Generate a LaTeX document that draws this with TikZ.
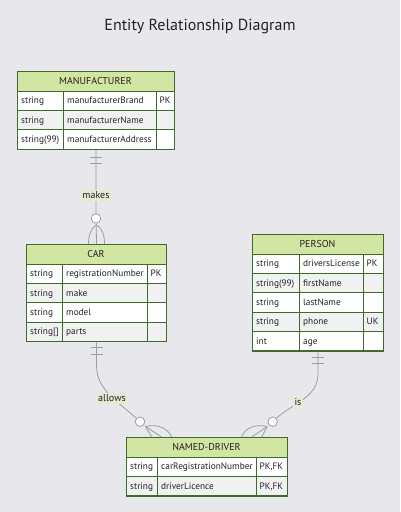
\documentclass[tikz,border=0pt]{standalone}
\usepackage{fontspec}
\setmainfont{PT Sans}
\definecolor{bgc}{HTML}{E8E8EC}
\definecolor{erhead}{HTML}{D3E5A2}
\definecolor{erborder}{HTML}{3F6A2C}
\definecolor{rowalt}{HTML}{F1F1F1}
\definecolor{relline}{HTML}{9E9E9E}
\definecolor{lblbg}{HTML}{E4EBD0}
\definecolor{txtc}{HTML}{222222}
\tikzset{
  ent/.style={draw=erborder, line width=1.1pt, inner sep=0pt, fill=none},
  cell/.style={draw=erborder, line width=0.7pt},
  hdr/.style={font=\fontsize{10}{12}\selectfont, text=txtc, inner sep=0pt, text height=7pt, text depth=2pt},
  celltxt/.style={font=\fontsize{9.3}{11}\selectfont, text=txtc, anchor=west, inner sep=0pt, text height=6.8pt, text depth=2pt},
  rel/.style={draw=relline, line width=0.8pt},
  circ/.style={circle, draw=relline, line width=0.8pt, fill=white, inner sep=0pt, minimum size=9.5pt},
  lbl/.style={fill=lblbg, font=\fontsize{10}{12}\selectfont, text=txtc, inner sep=1.5pt},
}
% #1 id, #2 x0, #3 c1, #4 c2, #5 x1, #6 ytop, #7 title, #8 rows
\newcommand\ertable[8]{%
  \fill[erhead] (#2,#6) rectangle (#5,#6+20);
  \node[hdr] (#1-title) at ({(#2+#5)/2},#6+10.8) {#7};
  \foreach \ty/\nm/\ky [count=\i] in {#8} {
    \pgfmathsetmacro\ya{#6+20+(\i-1)*19.3}
    \pgfmathsetmacro\yb{\ya+19.3}
    \ifodd\i\relax
      \fill[white] (#2,\ya) rectangle (#5,\yb);
    \else
      \fill[rowalt] (#2,\ya) rectangle (#5,\yb);
    \fi
    \draw[cell] (#2,\ya) rectangle (#3,\yb);
    \draw[cell] (#3,\ya) rectangle (#4,\yb);
    \draw[cell] (#4,\ya) rectangle (#5,\yb);
    \node[celltxt] (#1-t\i) at (#2+4,\ya+10.4) {\ty};
    \node[celltxt] (#1-n\i) at (#3+4,\ya+10.4) {\nm};
    \node[celltxt] (#1-k\i) at (#4+3.5,\ya+10.4) {\ky};
    \xdef\erbottom{\yb}
  }
  \draw[cell] (#2,#6+20) -- (#5,#6+20);
  \node[ent, anchor=north west, minimum width={#5pt-#2pt}, minimum height={\erbottom pt-#6pt}] (#1) at (#2,#6) {};
}
\begin{document}
\begin{tikzpicture}[x=1pt,y=-1pt]
\fill[bgc] (0,0) rectangle (400,512);
\useasboundingbox (0,0) rectangle (400,512);

\node[font=\fontsize{16}{19}\selectfont, text=txtc] (title) at (200,27) {Entity Relationship Diagram};

\ertable{manu}{17}{63}{156}{174}{71}{MANUFACTURER}{string/manufacturerBrand/PK, string/manufacturerName/, string(99)/manufacturerAddress/}
\ertable{car}{26}{62}{147}{166}{244}{CAR}{string/registrationNumber/PK, string/make/, string/model/, string[]/parts/}
\ertable{person}{252}{299}{363}{383}{234}{PERSON}{string/driversLicense/PK, string(99)/firstName/, string/lastName/, string/phone/UK, int/age/}
\ertable{nd}{126}{157}{256}{287}{437}{NAMED-DRIVER}{string/carRegistrationNumber/{PK,FK}, string/driverLicence/{PK,FK}}

% makes
\node[circ] (mk-c) at (96,218.5) {};
\draw[rel] (manu.south) -- (mk-c);
\draw[rel] (mk-c) -- (car.north);
\draw[rel] ([xshift=-6pt,yshift=-7pt]manu.south) -- ++(12pt,0);
\draw[rel] ([xshift=-6pt,yshift=-13pt]manu.south) -- ++(12pt,0);
\coordinate (mk-f) at ([yshift=19pt]car.north);
\draw[rel] (mk-f) .. controls +(-6pt,-3pt) and +(0,8pt) .. ([xshift=-8pt]car.north);
\draw[rel] (mk-f) .. controls +(6pt,-3pt) and +(0,8pt) .. ([xshift=8pt]car.north);
\node[lbl] (mk-l) at (96,195.5) {makes};

% allows
\node[circ] (al-c) at (140,421.7) {};
\draw[rel] (car.south) -- ++(0,-24pt) .. controls +(0,-24pt) and (120,403) .. (al-c);
\draw[rel] ([xshift=-6pt,yshift=-5.5pt]car.south) -- ++(12pt,0);
\draw[rel] ([xshift=-6pt,yshift=-12pt]car.south) -- ++(12pt,0);
\coordinate (al-f) at (145.5,426.5);
\coordinate (al-e1) at (151.7,437);
\coordinate (al-e2) at (161.7,437);
\coordinate (al-e3) at (171.7,437);
\draw[rel] (al-f) -- (al-e1);
\draw[rel] (al-f) -- (al-e2);
\draw[rel] (al-f) .. controls (159,423.5) and (168,429) .. (al-e3);
\node[lbl] (al-l) at (112,398.5) {allows};

% is
\node[circ] (is-c) at (272.7,421.7) {};
\draw[rel] (person.south) -- ++(0,-22pt) .. controls +(0,-24pt) and (293,403) .. (is-c);
\draw[rel] ([xshift=-6pt,yshift=-6pt]person.south) -- ++(12pt,0);
\draw[rel] ([xshift=-6pt,yshift=-12pt]person.south) -- ++(12pt,0);
\coordinate (is-f) at (267.2,426.5);
\coordinate (is-e1) at (261.7,437);
\coordinate (is-e2) at (251.7,437);
\coordinate (is-e3) at (241.7,437);
\draw[rel] (is-f) -- (is-e1);
\draw[rel] (is-f) -- (is-e2);
\draw[rel] (is-f) .. controls (253.5,423.5) and (244.5,429) .. (is-e3);
\node[lbl] (is-l) at (298,402) {is};
\end{tikzpicture}
\end{document}
